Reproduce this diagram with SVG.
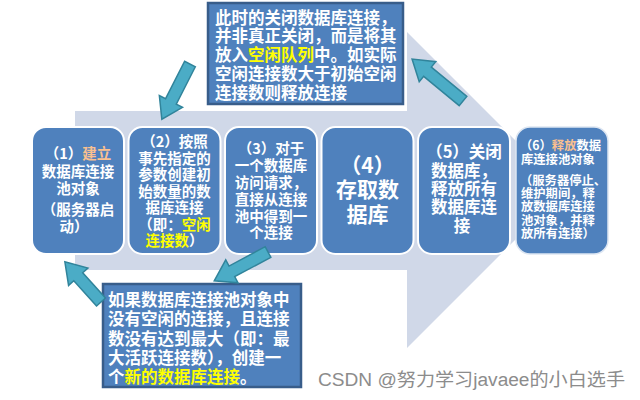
<svg xmlns="http://www.w3.org/2000/svg" width="640" height="400" viewBox="0 0 640 400">
<style>
.box{fill:#4f81bd;stroke:#ffffff;stroke-width:2}
.call{fill:#4f81bd;stroke:#385d8a;stroke-width:2.5}
.t{font-family:"Noto Sans CJK SC","Noto Sans",sans-serif;font-weight:bold;fill:#ffffff}
.c{text-anchor:middle}
.pe{fill:#fac090}
.ye{fill:#ffff00}
.arr{fill:#4bacc6;stroke:#31849b;stroke-width:1.5}
</style>
<rect width="640" height="400" fill="#ffffff"/>
<polygon id="bigarrow" points="75,111 407,111 407,32 565,190 407,348 407,270 75,270" fill="#d0d8e8"/>

<g id="node1">
<rect class="box" x="32" y="127" width="92" height="127" rx="14"/>
<text class="t c" font-size="14.5"><tspan x="78" y="158.5">（1）<tspan class="pe">建立</tspan></tspan><tspan x="78" y="177">数据库连接</tspan><tspan x="78" y="193.5">池对象</tspan><tspan x="78" y="214.5">（服务器启</tspan><tspan x="74" y="232">动）</tspan></text>
</g>
<g id="node2">
<rect class="box" x="128.5" y="127" width="92" height="127" rx="14"/>
<text class="t c" font-size="14.5"><tspan x="174.5" y="146.5">（2）按照</tspan><tspan x="174.5" y="163.5">事先指定的</tspan><tspan x="174.5" y="180">参数创建初</tspan><tspan x="174.5" y="196.5">始数量的数</tspan><tspan x="174.5" y="213">据库连接</tspan><tspan x="174.5" y="229.5">（即：<tspan class="ye">空闲</tspan></tspan><tspan x="174.5" y="246"><tspan class="ye">连接数</tspan>）</tspan></text>
</g>
<g id="node3">
<rect class="box" x="225" y="127" width="92" height="127" rx="14"/>
<text class="t c" font-size="14.5"><tspan x="271" y="153.5">（3）对于</tspan><tspan x="271" y="170.5">一个数据库</tspan><tspan x="271" y="187.5">访问请求，</tspan><tspan x="271" y="204.5">直接从连接</tspan><tspan x="271" y="221.5">池中得到一</tspan><tspan x="271" y="238">个连接</tspan></text>
</g>
<g id="node4">
<rect class="box" x="321.5" y="127" width="92" height="127" rx="14"/>
<text class="t c" font-size="21" font-weight="normal"><tspan x="367.5" y="173">（4）</tspan><tspan x="367.5" y="197">存取数</tspan><tspan x="367.5" y="222">据库</tspan></text>
</g>
<g id="node5">
<rect class="box" x="418" y="127" width="92" height="127" rx="14"/>
<text class="t c" font-size="16.5" font-weight="normal"><tspan x="464" y="158">（5）关闭</tspan><tspan x="464" y="177">数据库，</tspan><tspan x="464" y="195">释放所有</tspan><tspan x="464" y="213">数据库连</tspan><tspan x="462" y="232">接</tspan></text>
</g>
<g id="node6">
<rect x="516" y="127" width="92" height="127" rx="14" fill="#4f81bd" stroke="#dde6f2" stroke-width="1.5"/>
<text class="t" font-size="12.3"><tspan x="520" y="150">（6）<tspan class="pe">释放</tspan>数据</tspan><tspan x="521" y="164">库连接池对象</tspan><tspan x="520" y="185">（服务器停止、</tspan><tspan x="521" y="198">维护期间，释</tspan><tspan x="521" y="211">放数据库连接</tspan><tspan x="521" y="225">池对象，并释</tspan><tspan x="521" y="238">放所有连接）</tspan></text>
</g>

<g id="note-top">
<rect class="call" x="208" y="3" width="195" height="101"/>
<text class="t" font-size="16.5" font-weight="normal"><tspan x="215" y="23.5">此时的关闭数据库连接，</tspan><tspan x="215" y="42.3">并非真正关闭，而是将其</tspan><tspan x="215" y="61">放入<tspan class="ye">空闲队列</tspan>中。如实际</tspan><tspan x="215" y="79.8">空闲连接数大于初始空闲</tspan><tspan x="215" y="98.5">连接数则释放连接</tspan></text>
</g>
<g id="note-bottom">
<rect class="call" x="103" y="284" width="198" height="103"/>
<text class="t" font-size="16.5" font-weight="normal"><tspan x="108" y="306">如果数据库连接池对象中</tspan><tspan x="108" y="325.3">没有空闲的连接，且连接</tspan><tspan x="108" y="344.6">数没有达到最大（即：最</tspan><tspan x="108" y="363.9">大活跃连接数），创建一</tspan><tspan x="108" y="383">个<tspan class="ye">新的数据库连接</tspan>。</tspan></text>
</g>

<g id="connectors">
<path class="arr" transform="translate(190,64) rotate(117)" d="M0,-6 H42 V-13 L62,0 L42,13 V6 H0 Z"/>
<path class="arr" transform="translate(463,101) rotate(-140.5)" d="M0,-6 H46 V-13 L66,0 L46,13 V6 H0 Z"/>
<path class="arr" transform="translate(268,252) rotate(151.8)" d="M0,-6 H41 V-13 L61,0 L41,13 V6 H0 Z"/>
<path class="arr" transform="translate(101,302) rotate(-132)" d="M0,-6 H34 V-13 L54,0 L34,13 V6 H0 Z"/>
</g>

<text x="318" y="386" font-family="'Liberation Sans','Noto Sans CJK SC',sans-serif" font-size="18" fill="#8c8c8c" textLength="307" lengthAdjust="spacingAndGlyphs">CSDN @努力学习javaee的小白选手</text>
</svg>
